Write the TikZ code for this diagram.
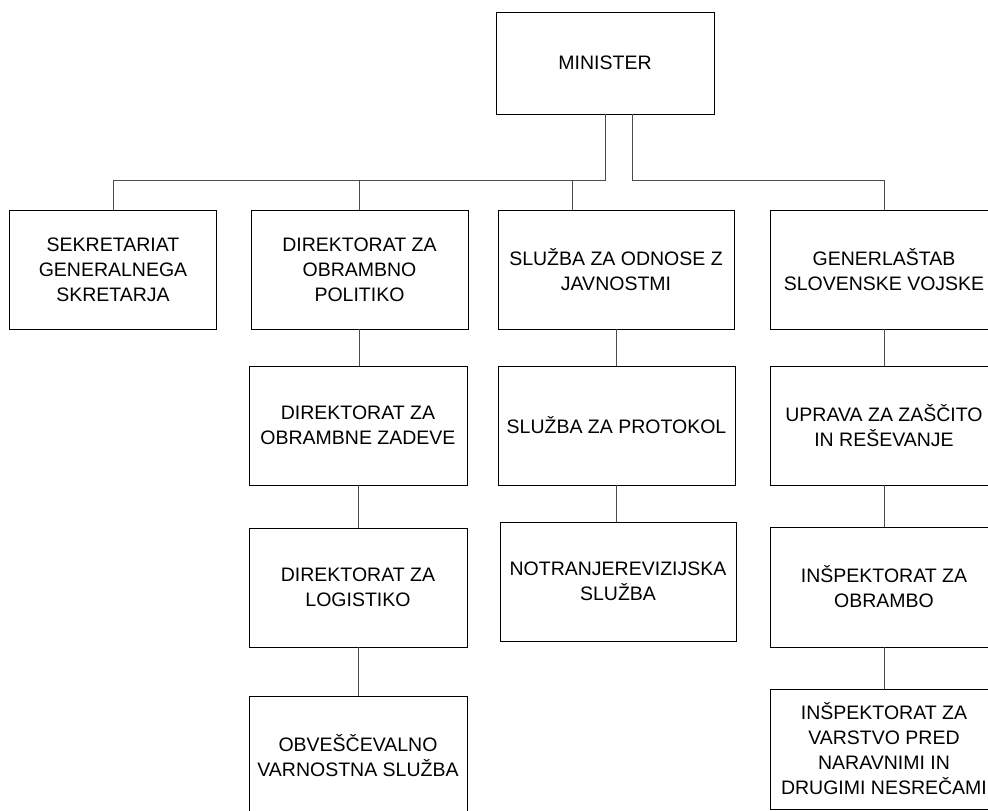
\documentclass[tikz,border=0pt]{standalone}
\usepackage{fontspec}
\setmainfont{Liberation Sans}

\begin{document}
\begin{tikzpicture}[x=1pt,y=-1pt,
    unit/.style={draw,line width=0.9pt,minimum height=119pt,align=center,inner sep=2pt,
        font=\fontsize{19.5}{25}\selectfont},
    link/.style={draw=black!70,line width=0.9pt}]
    \useasboundingbox (0,0) rectangle (988,811);

    % Top
    \node[unit,minimum width=218pt,minimum height=102pt] (minister) at (605,63) {MINISTER};

    % First row
    \node[unit,minimum width=207pt] (sekretariat) at (113,269.5) {SEKRETARIAT\\GENERALNEGA\\SKRETARJA};
    \node[unit,minimum width=217pt] (politika) at (359.5,269.5) {DIREKTORAT ZA\\OBRAMBNO\\POLITIKO};
    \node[unit,minimum width=236pt] (javnost) at (616,269.5) {SLUŽBA ZA ODNOSE Z\\JAVNOSTMI};
    \node[unit,minimum width=228pt] (genstab) at (884,269.5) {GENERLAŠTAB\\SLOVENSKE VOJSKE};

    % Column 2
    \node[unit,minimum width=218pt] (zadeve) at (358,425.5) {DIREKTORAT ZA\\OBRAMBNE ZADEVE};
    \node[unit,minimum width=218pt] (logistika) at (358,587.5) {DIREKTORAT ZA\\LOGISTIKO};
    \node[unit,minimum width=218pt] (obvescevalna) at (358,755.5) {OBVEŠČEVALNO\\VARNOSTNA SLUŽBA};

    % Column 3
    \node[unit,minimum width=237pt] (protokol) at (616.5,425.5) {SLUŽBA ZA PROTOKOL};
    \node[unit,minimum width=236pt] (revizija) at (618,581.5) {NOTRANJEREVIZIJSKA\\SLUŽBA};

    % Column 4
    \node[unit,minimum width=228pt] (zascita) at (884,425.5) {UPRAVA ZA ZAŠČITO\\IN REŠEVANJE};
    \node[unit,minimum width=228pt,minimum height=120pt] (obramba) at (884,587) {INŠPEKTORAT ZA\\OBRAMBO};
    \node[unit,minimum width=228pt,minimum height=120pt] (nesrece) at (884,749) {INŠPEKTORAT ZA\\VARSTVO PRED\\NARAVNIMI IN\\DRUGIMI NESREČAMI};

    % Bus lines
    \coordinate (busL) at (605,180);
    \coordinate (busR) at (632,180);
    \coordinate (drop3) at (572,180);
    \draw[link] (minister.south) -- (busL) -- (busL -| sekretariat.north) -- (sekretariat.north);
    \draw[link] (busL -| politika.north) -- (politika.north);
    \draw[link] (drop3) -- (drop3 |- javnost.north);
    \draw[link] (minister.south -| busR) -- (busR) -- (busR -| genstab.north) -- (genstab.north);

    % Vertical chains
    \draw[link] (politika.south) -- (politika.south |- zadeve.north);
    \draw[link] (zadeve.south) -- (zadeve.south |- logistika.north);
    \draw[link] (logistika.south) -- (logistika.south |- obvescevalna.north);
    \draw[link] (javnost.south) -- (javnost.south |- protokol.north);
    \draw[link] (protokol.south) -- (protokol.south |- revizija.north);
    \draw[link] (genstab.south) -- (genstab.south |- zascita.north);
    \draw[link] (zascita.south) -- (zascita.south |- obramba.north);
    \draw[link] (obramba.south) -- (obramba.south |- nesrece.north);
\end{tikzpicture}
\end{document}
